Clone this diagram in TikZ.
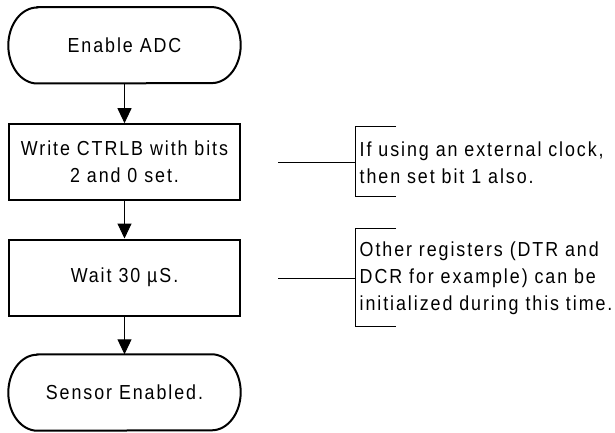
\documentclass[tikz,border=0pt]{standalone}
\usepackage{fontspec}
\setmainfont{Liberation Sans}[FakeStretch=0.88, LetterSpace=9.5]
\usetikzlibrary{arrows.meta}
\newcommand\diafont{\fontsize{20.3}{27}\selectfont}
\tikzset{
  proc/.style={draw, line width=2pt, minimum width=231pt, minimum height=76pt,
    inner sep=0pt, align=center, font=\diafont},
  term/.style={minimum width=232pt, minimum height=76pt, inner sep=0pt,
    align=center, font=\diafont},
  termline/.style={line width=2pt},
  flow/.style={line width=1pt, -{Triangle[width=14pt,length=15pt]}},
  note/.style={line width=1pt},
  notetext/.style={anchor=west, align=left, inner sep=0pt, font=\diafont},
}
\begin{document}
\begin{tikzpicture}[x=1pt, y=-1pt]
\useasboundingbox (0,0) rectangle (615,433);
% flow nodes
\node[term] (t1) at (124.5,45.3) {Enable ADC};
\node[proc] (b1) at (124.5,162.2) {Write CTRLB with bits\\2 and 0 set.};
\node[proc] (b2) at (124.5,277.5) {Wait 30 µS.};
\node[term] (t2) at (124.5,392.5) {Sensor Enabled.};
% terminal outlines
\foreach \t in {t1,t2}{
  \draw[termline] ([xshift=29pt]\t.north west) -- ([xshift=-29pt]\t.north east)
    arc[start angle=90, end angle=-90, x radius=29pt, y radius=38pt]
    -- ([xshift=29pt]\t.south west)
    arc[start angle=270, end angle=90, x radius=29pt, y radius=38pt] -- cycle;
}
% flow arrows
\draw[flow] (t1.south) -- (b1.north);
\draw[flow] (b1.south) -- (b2.north);
\draw[flow] (b2.south) -- (t2.north);
% annotations
\node[notetext] (n1) at (359.5,163) {If using an external clock,\\then set bit 1 also.};
\node[notetext] (n2) at (359.5,278) {Other registers (DTR and\\DCR for example) can be\\initialized during this time.};
\coordinate (a1) at (278,162.5);
\coordinate (k1) at (355,162.5);
\coordinate (a2) at (278,278);
\coordinate (k2) at (355,278);
\draw[note] (a1) -- (k1);
\draw[note] (396,126.7) -- (355,126.7) -- (355,196.7) -- (396,196.7);
\draw[note] (a2) -- (k2);
\draw[note] (396,228) -- (355,228) -- (355,326.7) -- (396,326.7);
\end{tikzpicture}
\end{document}
